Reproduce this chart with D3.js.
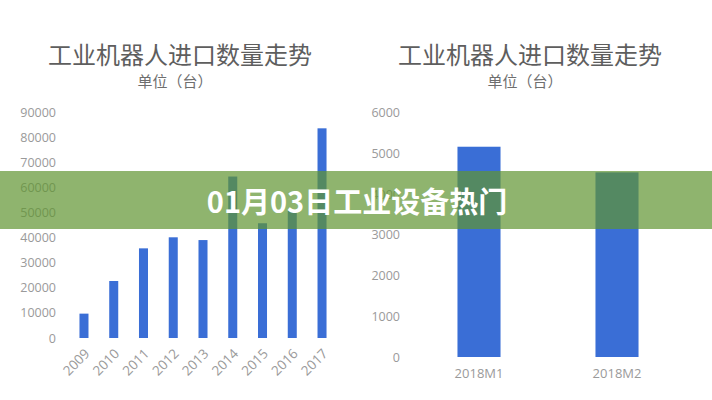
<!DOCTYPE html>
<html><head><meta charset="utf-8">
<script src="https://cdn.jsdelivr.net/npm/d3@7/dist/d3.min.js"></script>
<style>body{margin:0;background:#fff;}svg{display:block;}</style>
</head><body>
<script>
const titleText = "工业机器人进口数量走势";
const subtitleText = "单位（台）";
const bannerText = "01月03日工业设备热门";
const yearCategories = ["2009","2010","2011","2012","2013","2014","2015","2016","2017"];
const yearValues = [9700, 22700, 35700, 40100, 39000, 64300, 45700, 50600, 83500];
const yearTicks = [0,10000,20000,30000,40000,50000,60000,70000,80000,90000];
const monthCategories = ["2018M1","2018M2"];
const monthValues = [5160, 4530];
const monthTicks = [0,1000,2000,3000,4000,5000,6000];

const W = 712, H = 400;
const svg = d3.select("body").append("svg").attr("width", W).attr("height", H);
const font = "'Noto Sans CJK SC','Noto Sans',sans-serif";
const numFont = "'Open Sans','Noto Sans',sans-serif";
const barColor = "#3a6ed6";
const tickColor = "#9a9a9a";

function titles(cx, scx) {
  svg.append("text").attr("x", cx).attr("y", 53).attr("text-anchor","middle")
    .attr("dominant-baseline","central").attr("font-family", font).attr("font-size", 24)
    .attr("fill", "#5e5e5e").text(titleText);
  svg.append("text").attr("x", scx).attr("y", 80).attr("text-anchor","middle")
    .attr("dominant-baseline","central").attr("font-family", font).attr("font-size", 15)
    .attr("fill", "#6e6e6e").text(subtitleText);
}
titles(180, 175);
titles(530, 525);

// Left chart
const xL = d3.scaleBand().domain(yearCategories).range([69.1, 336.9]).paddingInner(0.697).paddingOuter(0.3485);
const yL = d3.scaleLinear().domain([0, 90000]).range([338, 112]);
svg.append("g").selectAll("rect").data(yearValues).enter().append("rect")
  .attr("x", (d,i) => xL(yearCategories[i])).attr("width", xL.bandwidth())
  .attr("y", d => yL(d)).attr("height", d => yL(0) - yL(d)).attr("fill", barColor);
const axL = svg.append("g").attr("transform","translate(56,0)")
  .call(d3.axisLeft(yL).tickValues(yearTicks).tickSize(0).tickPadding(0).tickFormat(d3.format("d")));
axL.select(".domain").remove();
axL.selectAll("text").attr("font-family", numFont).attr("font-size", 12.5).attr("fill", tickColor);
const axLx = svg.append("g").attr("transform","translate(0,338)")
  .call(d3.axisBottom(xL).tickSize(0).tickPadding(0));
axLx.select(".domain").remove();
axLx.selectAll("text").attr("font-family", numFont).attr("font-size", 13.5).attr("fill", tickColor)
  .attr("text-anchor","end").attr("dy", null).attr("y", 0).attr("dominant-baseline","central")
  .attr("transform", "translate(3,13) rotate(-45)");

// Right chart
const xR = d3.scaleBand().domain(monthCategories).range([410, 686]).paddingInner(0.688).paddingOuter(0.344);
const yR = d3.scaleLinear().domain([0, 6000]).range([357, 112.5]);
svg.append("g").selectAll("rect").data(monthValues).enter().append("rect")
  .attr("x", (d,i) => xR(monthCategories[i])).attr("width", xR.bandwidth())
  .attr("y", d => yR(d)).attr("height", d => yR(0) - yR(d)).attr("fill", barColor);
const axR = svg.append("g").attr("transform","translate(400,0)")
  .call(d3.axisLeft(yR).tickValues(monthTicks).tickSize(0).tickPadding(0).tickFormat(d3.format("d")));
axR.select(".domain").remove();
axR.selectAll("text").attr("font-family", numFont).attr("font-size", 12.5).attr("fill", tickColor);
const axRx = svg.append("g").attr("transform","translate(0,357)")
  .call(d3.axisBottom(xR).tickSize(0).tickPadding(12));
axRx.select(".domain").remove();
axRx.selectAll("text").attr("font-family", numFont).attr("font-size", 13).attr("fill", tickColor);

// Banner
svg.append("rect").attr("x", 0).attr("y", 171).attr("width", W).attr("height", 58)
  .attr("fill", "rgb(95,148,48)").attr("fill-opacity", 0.7);
svg.append("text").attr("x", 357).attr("y", 200).attr("text-anchor","middle")
  .attr("dominant-baseline","central").attr("font-family", font).attr("font-weight", "bold")
  .attr("font-size", 29).attr("fill", "#fff").text(bannerText);
</script>
</body></html>
